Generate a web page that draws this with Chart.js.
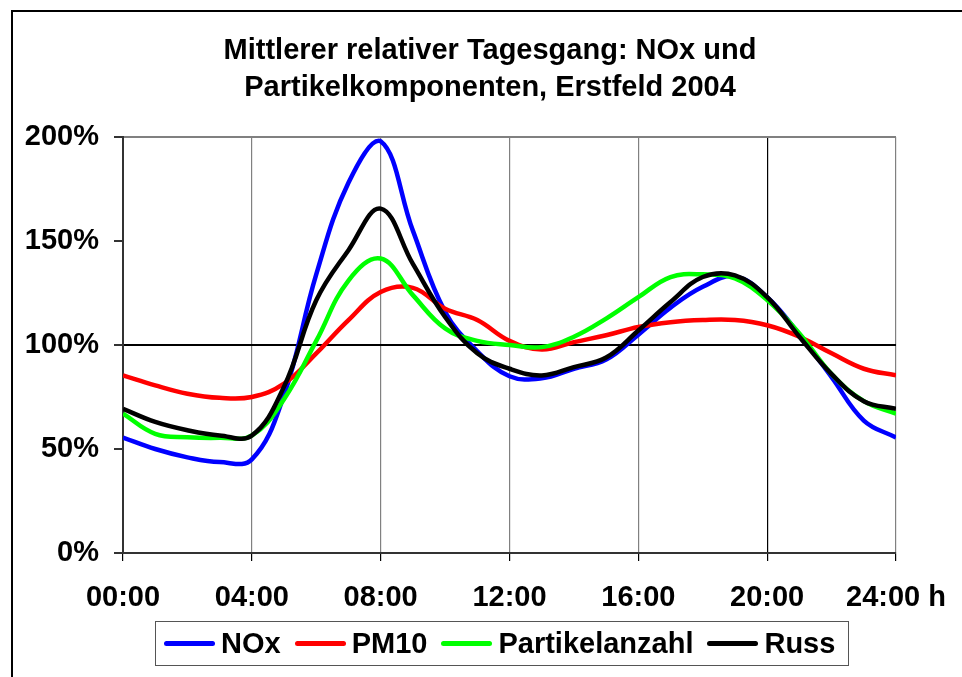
<!DOCTYPE html>
<html>
<head>
<meta charset="utf-8">
<title>Tagesgang Erstfeld 2004</title>
<script src="https://cdn.jsdelivr.net/npm/chart.js@4"></script>
<style>
    body { margin: 0; background: #fff; font-family: "Liberation Sans", Arial, sans-serif; }
    #wrap { position: relative; width: 962px; height: 677px; overflow: hidden; }
    #frame { position: absolute; left: 11px; top: 10px; width: 1000px; height: 700px; border: 2px solid #000; }
    #chart { position: absolute; left: 0; top: 0; }
    #legend {
        position: absolute; left: 155px; top: 621px; width: 694px; height: 45px;
        border: 1.5px solid #555; display: flex; align-items: center; padding-left: 8px; box-sizing: border-box;
        font-weight: bold; font-size: 29px; color: #000;
    }
    #legend .item { display: flex; align-items: center; margin-right: 14px; }
    #legend .line { display: inline-block; width: 51px; height: 5px; border-radius: 3px; margin-right: 6px; }
</style>
</head>
<body>
<div id="wrap">
    <div id="frame"></div>
    <canvas id="chart" width="962" height="677"></canvas>
    <div id="legend"></div>
</div>
<script>
// Stunden des Tages
const hours = [0, 1, 2, 3, 4, 5, 6, 7, 8, 9, 10, 11, 12, 13, 14, 15, 16, 17, 18, 19, 20, 21, 22, 23, 24];

// relativer Tagesgang in % (Jahresmittel = 100%)
const nox = [55.5, 50, 46, 43.7, 45, 76, 134, 178, 198, 155, 116, 97, 85, 84, 88.6, 93, 105, 118, 128, 133, 123, 105, 84.6, 63.7, 55.5];
const pm10 = [85.4, 80.6, 76.6, 74.6, 75, 81.4, 96, 112, 125.5, 127.5, 117.5, 112, 102, 97.8, 101.4, 104.7, 108.7, 111, 112, 112, 109.5, 104, 96, 88.6, 85.4];
const partikelanzahl = [67, 57.3, 55.7, 55.4, 56.5, 74, 102, 131, 141.6, 124, 108, 102, 100, 99, 104, 112.7, 123, 132.7, 134, 132, 121.7, 105.6, 86, 73, 67];
const russ = [69.3, 63, 59, 56.5, 56.5, 80, 121.5, 145.6, 165.6, 139, 113.5, 96, 88.6, 85.4, 89.4, 94, 107, 120.7, 132.7, 133.5, 123, 104, 86, 73, 69.3];

const seriesNames = ['NOx', 'PM10', 'Partikelanzahl', 'Russ'];
const seriesColors = ['#0000ff', '#ff0000', '#00ff00', '#000000'];
const seriesData = [nox, pm10, partikelanzahl, russ];

const yTicks = [0, 50, 100, 150, 200];

function hourLabel(v) {
    const s = (v < 10 ? '0' : '') + v + ':00';
    return v === 24 ? s + ' h' : s;
}

Chart.defaults.font.family = '"Liberation Sans", Arial, sans-serif';
Chart.defaults.color = '#000';

const datasets = seriesData.map((vals, i) => ({
    label: seriesNames[i],
    data: vals.map((v, j) => ({ x: hours[j], y: v })),
    borderColor: seriesColors[i],
    backgroundColor: seriesColors[i],
    borderWidth: 4.5,
    pointRadius: 0,
    tension: 0.4,
    fill: false,
    order: seriesNames.length - i // Russ zuoberst
}));

const ctx = document.getElementById('chart').getContext('2d');
new Chart(ctx, {
    type: 'line',
    data: { datasets: datasets },
    options: {
        responsive: false,
        animation: false,
        devicePixelRatio: 1,
        layout: { padding: { left: 20, right: 2, top: 0, bottom: 64 } },
        plugins: {
            legend: { display: false },
            tooltip: { enabled: false },
            title: {
                display: true,
                text: ['Mittlerer relativer Tagesgang: NOx und', 'Partikelkomponenten, Erstfeld 2004'],
                font: { size: 29, weight: 'bold', lineHeight: 1.26 },
                color: '#000',
                padding: { top: 33, bottom: 31 }
            }
        },
        scales: {
            x: {
                type: 'linear',
                min: 0,
                max: 24,
                afterFit: s => { s.height = 60; s.paddingLeft = 0; s.paddingRight = 0; },
                ticks: {
                    stepSize: 4,
                    autoSkip: false,
                    maxRotation: 0,
                    padding: 20,
                    font: { size: 29, weight: 'bold' },
                    callback: v => hourLabel(v)
                },
                grid: {
                    color: c => (c.tick && c.tick.value === 20) ? '#000' : '#808080',
                    tickColor: '#000',
                    tickLength: 8,
                    lineWidth: 1.2
                },
                border: { color: '#333', width: 2 }
            },
            y: {
                min: 0,
                max: 200,
                afterFit: s => { s.width = 103; },
                afterBuildTicks: s => { s.ticks = yTicks.map(v => ({ value: v })); },
                ticks: {
                    padding: 15,
                    font: { size: 29, weight: 'bold' },
                    callback: v => v + '%'
                },
                grid: {
                    color: c => {
                        if (!c.tick) return 'rgba(0,0,0,0)';
                        if (c.tick.value === 100) return '#000';
                        if (c.tick.value === 200) return '#808080';
                        return 'rgba(0,0,0,0)';
                    },
                    lineWidth: 2,
                    tickColor: '#333',
                    tickLength: 9
                },
                border: { color: '#333', width: 2 }
            },
            // leere rechte Achse, damit die Zeichenfläche bei 24:00 endet
            yRight: {
                position: 'right',
                min: 0,
                max: 1,
                afterFit: s => { s.width = 64; },
                ticks: { display: false },
                grid: { display: false },
                border: { display: false }
            }
        }
    }
});

// Legende
const legend = document.getElementById('legend');
seriesNames.forEach((name, i) => {
    const item = document.createElement('span');
    item.className = 'item';
    const line = document.createElement('span');
    line.className = 'line';
    line.style.background = seriesColors[i];
    item.appendChild(line);
    item.appendChild(document.createTextNode(name));
    legend.appendChild(item);
});
</script>
</body>
</html>
